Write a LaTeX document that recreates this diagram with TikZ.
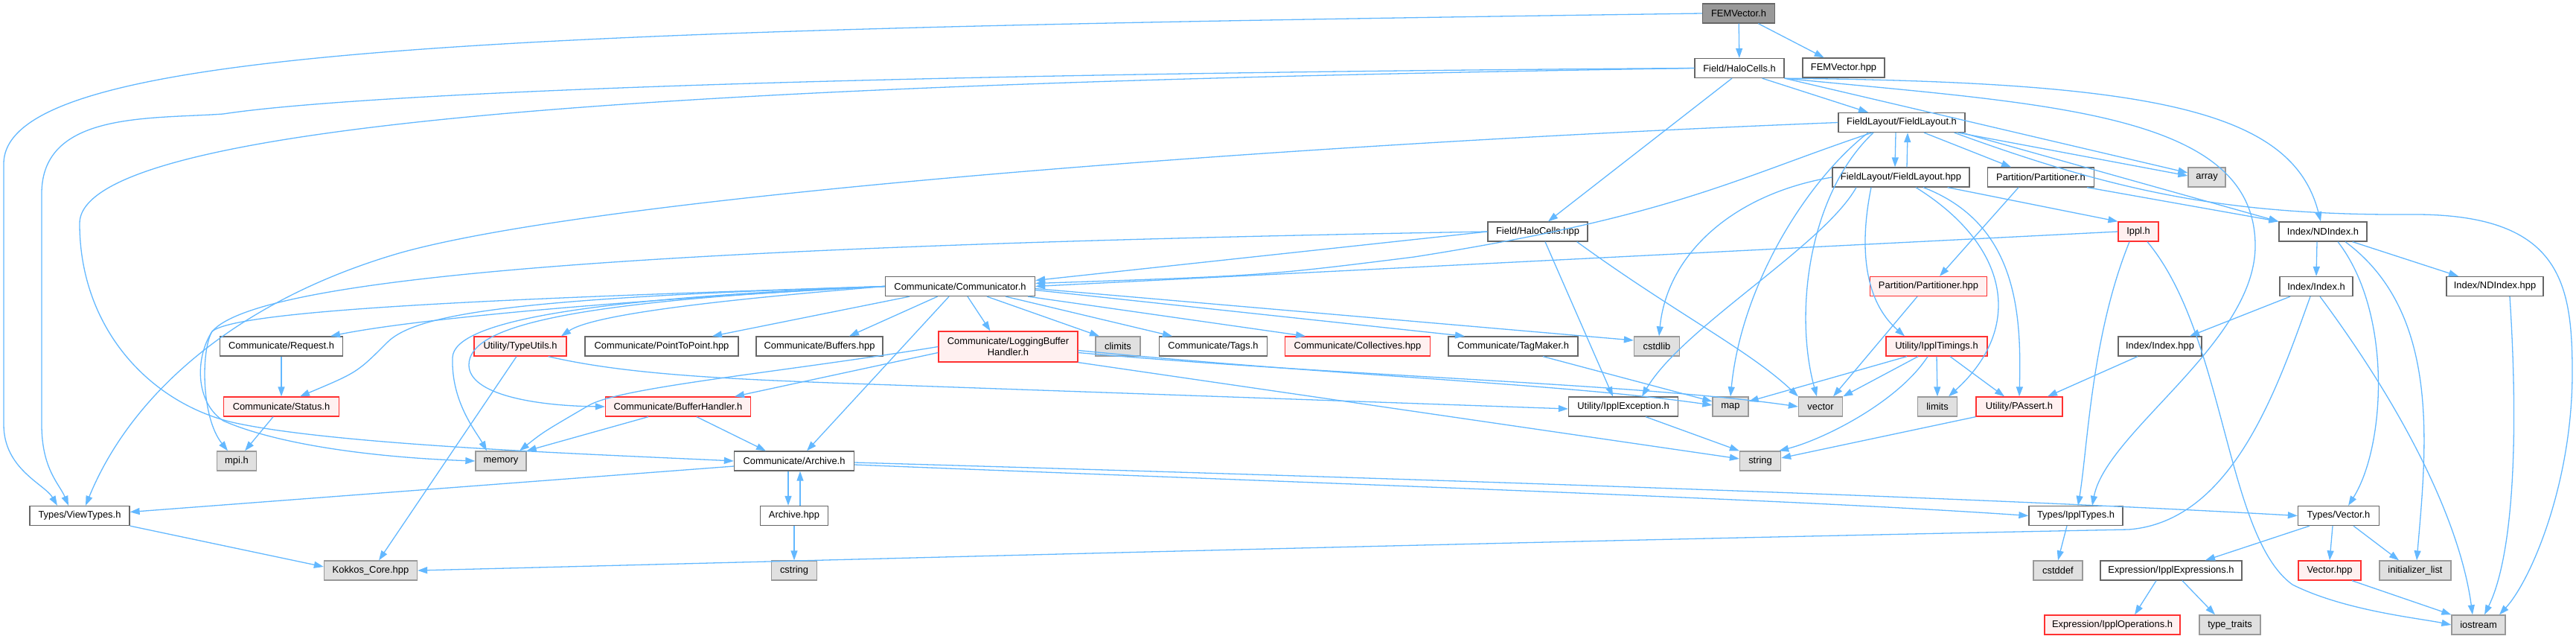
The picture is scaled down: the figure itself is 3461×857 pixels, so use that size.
\documentclass[tikz,border=0pt]{standalone}
\usepackage{fontspec}
\setmainfont{Liberation Sans}
\usetikzlibrary{arrows.meta,calc}
\definecolor{edgec}{HTML}{63B8FF}
\definecolor{bordn}{HTML}{666666}
\definecolor{sysf}{HTML}{E0E0E0}
\definecolor{sysb}{HTML}{999999}
\definecolor{redf}{HTML}{FFF0F0}
\definecolor{redb}{HTML}{FF3030}
\definecolor{mainf}{HTML}{999999}
\begin{document}
\begin{tikzpicture}[x=1pt,y=-1pt,
  box/.style={rectangle,draw=bordn,fill=white,line width=1.3pt,inner xsep=4pt,inner ysep=0pt,minimum height=26pt,font=\fontsize{12.9}{15}\selectfont},
  sys/.style={box,draw=sysb,fill=sysf},
  redn/.style={box,draw=redb,fill=redf},
  mainn/.style={box,fill=mainf},
  e/.style={draw=edgec,line width=1.3pt,-{Triangle[length=13pt,width=9pt]}}]
\useasboundingbox (0,0) rectangle (3461,857);
% nodes
\node[mainn,minimum width=97pt] (fv) at (2336,18) {FEMVector.h};
\node[box,minimum width=120pt] (hc) at (2337,91.5) {Field/HaloCells.h};
\node[box,minimum width=110pt] (fvp) at (2477,91) {FEMVector.hpp};
\node[box,minimum width=170pt] (fl) at (2555,164.5) {FieldLayout/FieldLayout.h};
\node[box,minimum width=184pt] (flp) at (2554,238) {FieldLayout/FieldLayout.hpp};
\node[box,minimum width=143pt] (pt) at (2742,238) {Partition/Partitioner.h};
\node[sys,minimum width=50pt] (arr) at (2965,238) {array};
\node[box,minimum width=118pt] (nd) at (3121,311) {Index/NDIndex.h};
\node[redn,minimum width=54pt] (ip) at (2873,311) {Ippl.h};
\node[box,minimum width=134pt] (hcp) at (2066,311) {Field/HaloCells.hpp};
\node[box,minimum width=201pt] (com) at (1290,384.5) {Communicate/Communicator.h};
\node[redn,minimum width=157pt] (pthp) at (2591,384.5) {Partition/Partitioner.hpp};
\node[box,minimum width=98pt] (ix) at (3112,384.5) {Index/Index.h};
\node[box,minimum width=130pt] (ndp) at (3352,384.5) {Index/NDIndex.hpp};
\node[box,minimum width=165pt] (req) at (378,465) {Communicate/Request.h};
\node[redn,minimum width=124pt] (tu) at (699,465) {Utility/TypeUtils.h};
\node[box,minimum width=206pt] (p2p) at (889,465) {Communicate/PointToPoint.hpp};
\node[box,minimum width=170pt] (buf) at (1101,465) {Communicate/Buffers.hpp};
\node[redn,minimum width=187pt,minimum height=41pt,align=center] (lbh) at (1354.5,465.5) {Communicate/LoggingBuffer\\Handler.h};
\node[sys,minimum width=60pt] (cli) at (1502,465) {climits};
\node[box,minimum width=145pt] (tags) at (1630,465) {Communicate/Tags.h};
\node[redn,minimum width=195pt] (coll) at (1824,465) {Communicate/Collectives.hpp};
\node[box,minimum width=174pt] (tm) at (2033,465) {Communicate/TagMaker.h};
\node[sys,minimum width=61pt] (csl) at (2226,465) {cstdlib};
\node[redn,minimum width=136pt] (tim) at (2602,465) {Utility/IpplTimings.h};
\node[box,minimum width=112pt] (ixp) at (2902,465) {Index/Index.hpp};
\node[redn,minimum width=155pt] (st) at (378,546) {Communicate/Status.h};
\node[redn,minimum width=195pt] (bh) at (911,546) {Communicate/BufferHandler.h};
\node[box,minimum width=147pt] (exc) at (2181,546) {Utility/IpplException.h};
\node[sys,minimum width=48pt] (map) at (2325,546) {map};
\node[sys,minimum width=59pt] (vec) at (2446,546) {vector};
\node[sys,minimum width=53pt] (lim) at (2603,546) {limits};
\node[redn,minimum width=116pt] (pa) at (2713,546) {Utility/PAssert.h};
\node[sys,minimum width=53pt] (mpi) at (318,619) {mpi.h};
\node[sys,minimum width=68pt] (mem) at (673,619) {memory};
\node[box,minimum width=161pt] (ar) at (1067,619) {Communicate/Archive.h};
\node[sys,minimum width=55pt] (str) at (2365,619) {string};
\node[box,minimum width=134pt] (vt) at (107,692.5) {Types/ViewTypes.h};
\node[box,minimum width=91pt] (arp) at (1067,692.5) {Archive.hpp};
\node[box,minimum width=126pt] (it) at (2789,692.5) {Types/IpplTypes.h};
\node[box,minimum width=109pt] (tv) at (3142,692.5) {Types/Vector.h};
\node[sys,minimum width=125pt] (kk) at (498,766) {Kokkos\_Core.hpp};
\node[sys,minimum width=61pt] (cst) at (1067,766) {cstring};
\node[sys,minimum width=66pt] (cdd) at (2765,766) {cstddef};
\node[box,minimum width=190pt] (expr) at (2917,766) {Expression/IpplExpressions.h};
\node[redn,minimum width=84pt] (vhp) at (3130,766) {Vector.hpp};
\node[sys,minimum width=96pt] (il) at (3245,766) {initializer\_list};
\node[redn,minimum width=182pt] (iop) at (2838,839) {Expression/IpplOperations.h};
\node[sys,minimum width=82pt] (tt) at (2996,839) {type\_traits};
\node[sys,minimum width=72pt] (io) at (3330,839) {iostream};
% edges from FEMVector.h
\draw[e] (fv) -- (hc);
\draw[e] (fv) -- (fvp);
\draw[e] (fv.west) .. controls (700,40) and (5,60) .. (5,220) -- (5,570) .. controls (5,630) and (60,650) .. ($(vt.north)+(-30,0)$);
% Field/HaloCells.h
\draw[e] (hc.west) .. controls (1000,100) and (450,130) .. (300,153) .. controls (200,160) and (56,150) .. (56,260) -- (56,570) .. controls (56,630) and (80,650) .. ($(vt.north)+(-15,0)$);
\draw[e] (hc.west) .. controls (1100,110) and (107,150) .. (107,300) .. controls (107,440) and (200,540) .. (312,567) .. controls (450,598) and (800,610) .. (ar.west);
\draw[e] ($(hc.south)+(-10,0)$) -- ($(hcp.north)+(14,0)$);
\draw[e] ($(hc.south east)+(-30,0)$) -- ($(fl.north)+(-45,0)$);
\draw[e] (hc.south east) -- ($(arr.west)+(0,-6)$);
\draw[e] (hc.south east) .. controls (2900,110) and (3080,150) .. ($(nd.north)+(-3,0)$);
\draw[e] (hc.south east) .. controls (2750,140) and (3030,150) .. (3030,330) .. controls (3030,460) and (2830,580) .. ($(it.north)+(22,0)$);
% Field/HaloCells.hpp
\draw[e] (hcp.west) -- ($(com.east)+(0,-8)$);
\draw[e] (hcp.west) .. controls (900,330) and (350,370) .. (285,445) .. controls (262,480) and (262,540) .. (300,565) .. controls (380,600) and (520,615) .. (mem.west);
\draw[e] ($(hcp.south)+(10,0)$) -- ($(exc.north)+(-14,0)$);
\draw[e] ($(hcp.south east)+(-15,0)$) .. controls (2250,420) and (2350,470) .. (vec.north west);
% FieldLayout.h
\draw[e] (fl.west) .. controls (1700,195) and (800,265) .. (536,340) .. controls (330,400) and (180,520) .. ($(vt.north)+(8,0)$);
\draw[e] ($(fl.south)+(-40,0)$) .. controls (2330,240) and (2250,290) .. (1900,345) .. controls (1700,370) .. ($(com.east)+(0,-4)$);
\draw[e] ($(fl.south)+(-45,0)$) .. controls (2430,240) and (2340,380) .. (map.north);
\draw[e] ($(fl.south)+(-38,0)$) .. controls (2430,260) and (2410,420) .. ($(vec.north)+(-5,0)$);
\draw[e] ($(fl.south)+(-8,0)$) -- ($(flp.north)+(-8,0)$);
\draw[e] ($(flp.north)+(8,0)$) -- ($(fl.south)+(8,0)$);
\draw[e] ($(fl.south)+(30,0)$) -- ($(pt.north)+(-40,0)$);
\draw[e] ($(fl.south east)+(-10,0)$) -- ($(arr.west)+(0,-2)$);
\draw[e] ($(fl.south east)+(-5,0)$) -- (nd.north west);
\draw[e] ($(fl.south east)+(-15,0)$) .. controls (2850,260) and (3000,290) .. (3250,288) .. controls (3440,290) and (3456,380) .. (3456,500) .. controls (3456,650) and (3400,780) .. ($(io.north)+(28,0)$);
% FieldLayout.hpp
\draw[e] (flp.west) .. controls (2330,260) and (2240,340) .. ($(csl.north)+(3,0)$);
\draw[e] ($(flp.south)+(-60,0)$) .. controls (2450,330) and (2260,440) .. ($(exc.north)+(25,0)$);
\draw[e] ($(flp.south)+(-40,0)$) .. controls (2500,320) and (2500,400) .. ($(tim.north)+(-43,0)$);
\draw[e] ($(flp.south)+(20,0)$) .. controls (2700,330) and (2720,440) .. ($(lim.north)+(15,0)$);
\draw[e] ($(flp.south)+(30,0)$) .. controls (2710,300) and (2716,420) .. (pa.north);
\draw[e] ($(flp.south east)+(-30,0)$) -- (ip.north west);
% Partitioner
\draw[e] ($(pt.south)+(-30,0)$) -- ($(pthp.north)+(15,0)$);
\draw[e] ($(pt.south east)+(-10,0)$) -- (nd.north west);
\draw[e] ($(pthp.south)+(-15,0)$) -- ($(vec.north)+(17,0)$);
% Ippl.h
\draw[e] (ip.west) -- (com.east);
\draw[e] ($(ip.south)+(-12,0)$) .. controls (2810,450) and (2805,600) .. ($(it.north)+(3,0)$);
\draw[e] ($(ip.south)+(12,0)$) .. controls (2990,450) and (2990,720) .. (3080,785) .. controls (3150,820) and (3250,830) .. (io.west);
% NDIndex.h
\draw[e] ($(nd.south)+(-8,0)$) -- (ix.north);
\draw[e] ($(nd.south east)+(-20,0)$) -- ($(ndp.north)+(-49,0)$);
\draw[e] ($(nd.south)+(20,0)$) .. controls (3215,420) and (3205,600) .. ($(tv.north)+(13,0)$);
\draw[e] ($(nd.south)+(30,0)$) .. controls (3280,420) and (3260,600) .. ($(il.north)+(2,0)$);
% Index.h
\draw[e] ($(ix.south)+(-35,0)$) -- ($(ixp.north)+(40,0)$);
\draw[e] ($(ix.south)+(-8,0)$) .. controls (3060,520) and (3000,700) .. (2860,711) .. controls (2000,728) and (1200,750) .. (kk.east);
\draw[e] ($(ix.south)+(5,0)$) .. controls (3230,550) and (3305,700) .. ($(io.north)+(-8,0)$);
\draw[e] ($(ndp.south)+(20,0)$) .. controls (3385,600) and (3375,750) .. ($(io.north)+(8,0)$);
\draw[e] ($(ixp.south)+(-30,0)$) -- ($(pa.north)+(38,0)$);
% IpplTimings
\draw[e] ($(tim.south)+(-40,0)$) -- ($(map.east)+(0,-7)$);
\draw[e] ($(tim.south)+(-25,0)$) -- (vec.north east);
\draw[e] ($(tim.south)+(-12,0)$) .. controls (2550,540) and (2450,590) .. ($(str.north east)+(-3,0)$);
\draw[e] (tim.south) -- (lim.north);
\draw[e] ($(tim.south)+(18,0)$) -- ($(pa.north)+(-20,0)$);
\draw[e] (pa.south west) -- ($(str.east)+(0,-4)$);
\draw[e] ($(exc.south)+(30,0)$) -- (str.north west);
% Communicator
\draw[e] (com.west) .. controls (800,405) and (550,430) .. ($(req.north)+(66,0)$);
\draw[e] (com.west) .. controls (700,400) and (560,420) .. (520,460) .. controls (480,500) .. ($(st.north)+(25,0)$);
\draw[e] (com.west) .. controls (1000,400) and (800,420) .. ($(tu.north)+(55,0)$);
\draw[e] (com) -- ($(p2p.north)+(68,0)$);
\draw[e] (com) -- ($(buf.north)+(40,0)$);
\draw[e] (com.west) .. controls (750,405) and (630,440) .. (630,490) .. controls (630,530) and (720,545) .. (bh.west);
\draw[e] (com.west) .. controls (700,400) and (320,415) .. (285,445) .. controls (270,470) and (270,560) .. ($(mpi.north)+(-12,0)$);
\draw[e] (com.west) .. controls (800,400) and (610,430) .. (608,480) .. controls (606,540) and (640,580) .. ($(mem.north)+(-19,0)$);
\draw[e] ($(com.south)+(-15,0)$) -- ($(ar.north)+(17,0)$);
\draw[e] ($(com.south)+(10,0)$) -- ($(lbh.north)+(-24,0)$);
\draw[e] ($(com.south)+(36,0)$) -- ($(cli.north)+(-25,0)$);
\draw[e] ($(com.south east)+(-40,0)$) -- ($(tags.north)+(-55,0)$);
\draw[e] ($(com.south east)+(-10,0)$) -- ($(coll.north)+(-70,0)$);
\draw[e] ($(com.east)+(0,5)$) -- ($(tm.north)+(-65,0)$);
\draw[e] ($(com.east)+(0,3)$) -- ($(csl.west)+(0,-8)$);
% Request, Status, TypeUtils
\draw[e] (req) -- (st);
\draw[e] ($(st.south)+(-11,0)$) -- ($(mpi.north)+(11,0)$);
\draw[e] ($(tu.south)+(-5,0)$) -- ($(kk.north)+(11,0)$);
\draw[e] ($(tu.south east)+(-25,0)$) .. controls (850,505) and (1000,510) .. (1200,517) -- ($(exc.west)+(0,3)$);
% LoggingBufferHandler
\draw[e] ($(lbh.west)+(0,8)$) -- ($(bh.north)+(76,0)$);
\draw[e] (lbh.west) .. controls (1050,500) and (830,520) .. (790,545) .. controls (730,580) .. ($(mem.north)+(25,0)$);
\draw[e] ($(lbh.east)+(0,5)$) .. controls (1800,505) and (2100,515) .. ($(map.west)+(0,-2)$);
\draw[e] ($(lbh.east)+(0,8)$) .. controls (1800,505) and (2200,515) .. (vec.west);
\draw[e] (lbh.south east) -- ($(str.west)+(0,-3)$);
% BufferHandler, TagMaker
\draw[e] ($(bh.south)+(-40,0)$) -- (mem.north east);
\draw[e] ($(bh.south)+(25,0)$) -- ($(ar.north)+(-38,0)$);
\draw[e] ($(tm.south)+(40,0)$) -- ($(map.west)+(0,-7)$);
% Archive
\draw[e] ($(ar.west)+(0,7)$) -- ($(vt.east)+(0,-5)$);
\draw[e] ($(ar.south)+(-8,0)$) -- ($(arp.north)+(-8,0)$);
\draw[e] ($(arp.north)+(8,0)$) -- ($(ar.south)+(8,0)$);
\draw[e] (arp) -- (cst);
\draw[e] ($(ar.east)+(0,5)$) .. controls (1800,650) and (2400,670) .. (it.west);
\draw[e] ($(ar.east)+(0,2)$) .. controls (1800,640) and (2600,665) .. (tv.west);
\draw[e] (vt.south east) -- ($(kk.west)+(0,-5)$);
% Types
\draw[e] ($(it.south)+(-12,0)$) -- (cdd.north);
\draw[e] ($(tv.south)+(-39,0)$) -- ($(expr.north)+(46,0)$);
\draw[e] ($(tv.south)+(-8,0)$) -- (vhp.north);
\draw[e] ($(tv.south)+(20,0)$) -- ($(il.north)+(-22,0)$);
\draw[e] ($(vhp.south)+(30,0)$) -- (io.north west);
\draw[e] ($(expr.south)+(-20,0)$) -- ($(iop.north)+(30,0)$);
\draw[e] ($(expr.south)+(15,0)$) -- ($(tt.north)+(-20,0)$);
\end{tikzpicture}
\end{document}
